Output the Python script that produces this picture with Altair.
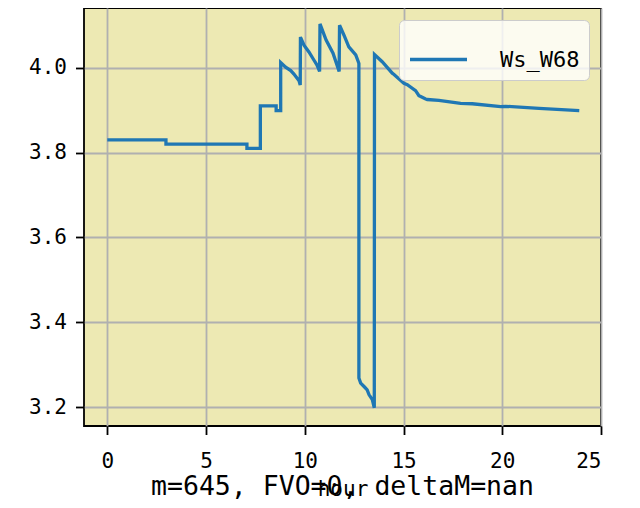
import altair as alt
import pandas as pd

# ---- data ----
hours = [0.0, 2.97, 2.97, 7.07, 7.07, 7.75, 7.75, 8.55, 8.55, 8.78, 8.78,
         9.03, 9.29, 9.45, 9.71, 9.77,
         9.78, 9.96, 10.21, 10.46, 10.62, 10.75,
         10.77, 11.08, 11.43, 11.74,
         11.76, 11.98, 12.23, 12.58, 12.71, 12.74,
         12.74, 12.83, 13.0, 13.16, 13.25, 13.42, 13.52,
         13.53, 13.92, 14.43, 14.52, 15.02, 15.19, 15.61, 15.78, 15.87, 16.12,
         16.2, 16.79, 17.89, 18.48, 19.92, 20.17, 21.86, 23.0, 23.9]
values = [3.830, 3.830, 3.820, 3.820, 3.810, 3.810, 3.910, 3.910, 3.899, 3.899, 4.012,
          4.001, 3.993, 3.985, 3.969, 3.959,
          4.072, 4.053, 4.037, 4.018, 4.006, 3.991,
          4.103, 4.065, 4.034, 3.991,
          4.100, 4.077, 4.049, 4.030, 4.014, 4.010,
          3.269, 3.257, 3.249, 3.241, 3.230, 3.218, 3.199,
          4.031, 4.014, 3.987, 3.984, 3.963, 3.960, 3.946, 3.934, 3.932, 3.926,
          3.925, 3.923, 3.916, 3.915, 3.908, 3.909, 3.904, 3.901, 3.899]
series_name = "Ws_W68"
x_ticks = [0, 5, 10, 15, 20, 25]
y_ticks = [3.2, 3.4, 3.6, 3.8, 4.0]
x_title = "hour"
bottom_text = "m=645, FVO=0, deltaM=nan"

df = pd.DataFrame({
    "hour": hours,
    "value": values,
    "idx": list(range(len(hours))),
    "series": [series_name] * len(hours),
})

MONO = "DejaVu Sans Mono"

chart = alt.Chart(df).mark_line(strokeWidth=3.3, clip=True).encode(
    x=alt.X("hour:Q",
            scale=alt.Scale(domain=[-1.18, 25.0], nice=False, zero=False),
            axis=alt.Axis(values=x_ticks, format="d", title=x_title,
                          labelPadding=16, titlePadding=6.5)),
    y=alt.Y("value:Q",
            scale=alt.Scale(domain=[3.156, 4.1405], nice=False, zero=False),
            axis=alt.Axis(values=y_ticks, format=".1f", title=None,
                          labelPadding=9)),
    color=alt.Color("series:N",
                    scale=alt.Scale(range=["#1f77b4"]),
                    legend=alt.Legend(title=None, orient="none",
                                      legendX=315, legendY=12,
                                      symbolType="stroke", symbolSize=3249,
                                      symbolStrokeWidth=3.3,
                                      labelFont=MONO, labelFontSize=22,
                                      labelColor="black", labelOffset=31,
                                      padding=9,
                                      fillColor="rgba(255,255,255,0.8)",
                                      strokeColor="#cccccc", cornerRadius=5)),
    order=alt.Order("idx:Q"),
).properties(
    width=517,
    height=418,
    padding={"left": 20, "top": 0, "right": 5, "bottom": 5},
    title=alt.TitleParams(bottom_text, orient="bottom", anchor="middle",
                          font=MONO, fontSize=26.5, fontWeight="normal",
                          color="black", offset=-25),
).configure_view(
    fill="#EDE9B3", stroke="black", strokeWidth=1.8
).configure_axis(
    domain=False,
    grid=True, gridColor="#b0b0b0", gridWidth=1.8,
    ticks=True, tickColor="black", tickWidth=1.8, tickSize=8.5,
    labelFont=MONO, labelFontSize=21, labelColor="black",
    titleFont=MONO, titleFontSize=21, titleFontWeight="normal", titleColor="black",
)

chart.save("out.html", embed_options={"renderer": "svg", "actions": False})
